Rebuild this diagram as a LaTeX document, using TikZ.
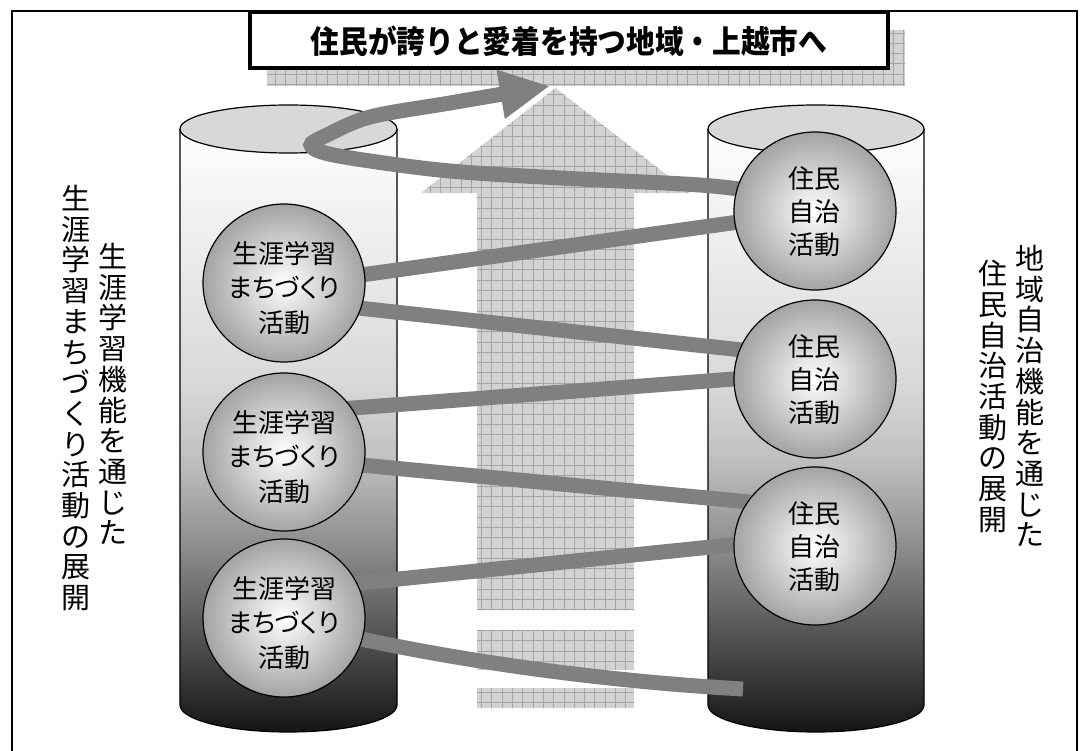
\documentclass[tikz,border=0pt]{standalone}
\usepackage{fontspec}
\newfontfamily\jp{Noto Sans CJK JP}
\newfontfamily\jpp{Noto Sans CJK JP}[RawFeature={+palt}]
\usetikzlibrary{arrows.meta,shapes.geometric}
\definecolor{bandgray}{HTML}{808080}
\definecolor{hatchfill}{HTML}{D2D2D2}
\definecolor{hatchline}{HTML}{A4A4A4}
\definecolor{topfill}{HTML}{D8D8D8}
\pgfdeclareverticalshading{cylshade}{100bp}{color(0bp)=(black!92); color(25bp)=(black!92); color(27.5bp)=(black!84); color(32.5bp)=(black!69); color(40bp)=(black!46); color(47.5bp)=(black!25); color(54bp)=(black!15); color(68.5bp)=(black!5); color(75bp)=(white); color(100bp)=(white)}
\tikzset{
  band/.style={draw=bandgray, line width=15pt, line cap=butt},
  bubble/.style={ellipse, minimum width=162pt, minimum height=158pt, inner sep=0pt, draw=black, line width=1.2pt, shading=radial, inner color=white, outer color=black!36},
  ltext/.style={align=center, inner sep=0pt, font=\jpp\fontsize{26}{34.5}\selectfont},
  rtext/.style={align=center, inner sep=0pt, font=\jp\fontsize{26}{33}\selectfont},
  vtext/.style={align=center, inner sep=0pt, anchor=north, font=\jp\fontsize{29}{30.7}\selectfont},
  titlebox/.style={draw=black, line width=4pt, fill=white, minimum width=638pt, minimum height=56pt, inner sep=0pt},
  cylline/.style={draw=black, line width=1.2pt}
}
\newcommand\mycyl[4]{% cx, rx, ytop, ybot
  \shade[shading=cylshade] ({#1-#2},#3) -- ({#1-#2},#4) arc[start angle=180, end angle=360, x radius=#2pt, y radius=27pt] -- ({#1+#2},#3) -- cycle;
  \draw[cylline] ({#1-#2},#3) -- ({#1-#2},#4) arc[start angle=180, end angle=360, x radius=#2pt, y radius=27pt] -- ({#1+#2},#3);
  \draw[cylline, fill=topfill] (#1,#3) ellipse [x radius=#2pt, y radius=24pt];
}
\begin{document}
\begin{tikzpicture}[x=1pt,y=-1pt]
\useasboundingbox (0,0) rectangle (1082,751);
\fill[white] (0,0) rectangle (1082,751);
% frame
\draw[line width=2pt] (12,760) -- (12,11) -- (1077,11) -- (1077,760);
% cylinders
\mycyl{288.5}{108.5}{129}{705}
\mycyl{816}{108}{129}{705}
% hatched areas: title shadow, big arrow, bars
\fill[hatchfill] (267,30) rectangle (905,86);
\fill[hatchfill] (477,610) -- (477,193) -- (421,193) -- (555.5,88) -- (690,193) -- (634,193) -- (634,610) -- cycle;
\fill[hatchfill] (477,630) rectangle (634,670);
\fill[hatchfill] (477,688) rectangle (634,708);
\begin{scope}
\clip (267,30) rectangle (905,86)
      (477,610) -- (477,193) -- (421,193) -- (555.5,88) -- (690,193) -- (634,193) -- (634,610) -- cycle
      (477,630) rectangle (634,670)
      (477,688) rectangle (634,708);
\foreach \i in {0,...,64} \draw[hatchline, line width=0.7pt] ({254.9+\i*10.3},0) -- ({254.9+\i*10.3},751);
\foreach \j in {0,...,72} \draw[hatchline, line width=0.7pt] (0,{2+\j*10.3}) -- (1082,{2+\j*10.3});
\end{scope}
% spiral bands
\draw[band, -{Triangle[length=50pt,width=46pt]}] plot[smooth, tension=0.55] coordinates {(760,192) (700,185) (560,178) (450,171) (370,161) (325,153) (311,145) (325,136) (370,117) (450,103) (550,86)};
\draw[band] (340,278) -- (760,219);
\draw[band] (340,306) -- (760,352);
\draw[band] (340,409) -- (760,377);
\draw[band] (340,463) -- (760,503);
\draw[band] (340,585) -- (760,542);
\draw[band] (330,632) .. controls (450,660) and (600,681) .. (743,689);
% left circles
\node[bubble] (L1) at (284,283) {};
\node[bubble] (L2) at (284,452) {};
\node[bubble] (L3) at (284,618) {};
\node[ltext] (L1t) at (284,288) {生涯学習\\まちづくり\\活動};
\node[ltext] (L2t) at (284,457) {生涯学習\\まちづくり\\活動};
\node[ltext] (L3t) at (284,623) {生涯学習\\まちづくり\\活動};
% right circles
\node[bubble] (R1) at (815,211) {};
\node[bubble] (R2) at (815,379) {};
\node[bubble] (R3) at (815,546) {};
\node[rtext] (R1t) at (814,212) {住民\\自治\\活動};
\node[rtext] (R2t) at (814,380) {住民\\自治\\活動};
\node[rtext] (R3t) at (814,547) {住民\\自治\\活動};
% title
\node[titlebox] (T) at (569,40) {};
\node[font=\jp\bfseries\fontsize{28.7}{30}\selectfont, inner sep=0pt] (Tt) at (569,41) {\scalebox{1}[1.1]{住民が誇りと愛着を持つ地域・上越市へ}};
% side vertical texts
\node[vtext] (LA) at (76,185) {生\\涯\\学\\習\\ま\\ち\\づ\\く\\り\\活\\動\\の\\展\\開};
\node[vtext] (LB) at (113,243) {生\\涯\\学\\習\\機\\能\\を\\通\\じ\\た};
\node[vtext] (RA) at (1030,245) {地\\域\\自\\治\\機\\能\\を\\通\\じ\\た};
\node[vtext] (RB) at (993,260) {住\\民\\自\\治\\活\\動\\の\\展\\開};
\end{tikzpicture}
\end{document}
